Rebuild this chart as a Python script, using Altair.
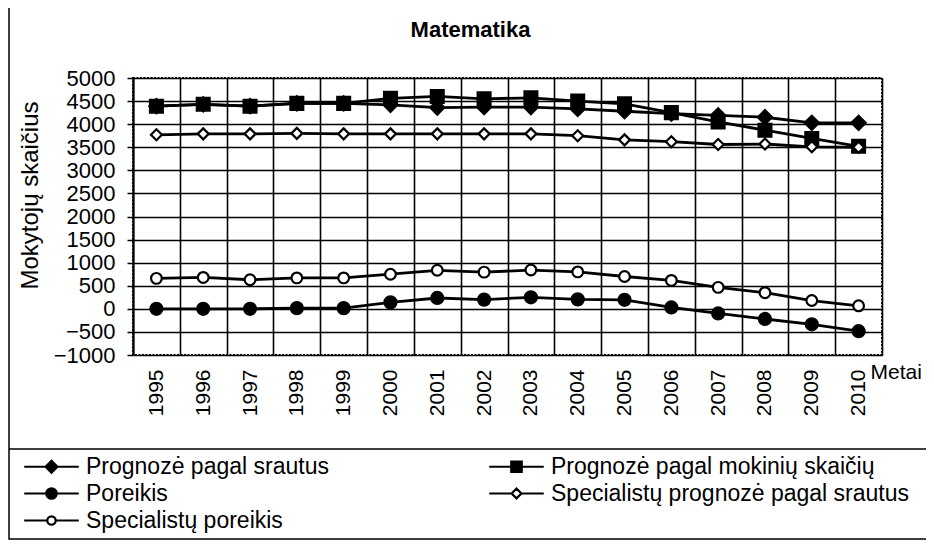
import altair as alt
import pandas as pd

# ---------------- data ----------------
years = ["1995", "1996", "1997", "1998", "1999", "2000", "2001", "2002",
         "2003", "2004", "2005", "2006", "2007", "2008", "2009", "2010"]

series_names = [
    "Prognozė pagal srautus",
    "Prognozė pagal mokinių skaičių",
    "Poreikis",
    "Specialistų prognozė pagal srautus",
    "Specialistų poreikis",
]

prognoze_srautus = [4390, 4430, 4390, 4450, 4450, 4420, 4360, 4370,
                    4370, 4330, 4280, 4230, 4190, 4150, 4030, 4030]
prognoze_mokiniu = [4390, 4430, 4390, 4450, 4450, 4560, 4600, 4550,
                    4570, 4500, 4440, 4250, 4050, 3870, 3690, 3520]
poreikis = [0, 0, 0, 15, 15, 140, 235, 200,
            250, 205, 195, 30, -100, -220, -335, -485]
specialistu_prognoze = [3770, 3790, 3790, 3800, 3790, 3790, 3790, 3790,
                        3790, 3750, 3660, 3620, 3560, 3570, 3510, 3500]
specialistu_poreikis = [660, 680, 630, 670, 670, 750, 835, 795,
                        840, 800, 700, 615, 465, 350, 180, 65]

y_ticks = [-1000, -500, 0, 500, 1000, 1500, 2000, 2500, 3000,
           3500, 4000, 4500, 5000]

# ---------------- styles ----------------
marker_shapes = ["diamond", "square", "circle", "diamond", "circle"]
marker_fills = ["black", "black", "black", "white", "white"]
marker_sizes = [200, 165, 145, 120, 115]

L = 3.9
legend_paths = [
    f"M{-L},0H{L}M-0.85,0L0,-0.85L0.85,0L0,0.85Z",
    f"M{-L},0H{L}M-0.75,-0.75H0.75V0.75H-0.75Z",
    f"M{-L},0H{L}M-0.75,0A0.75,0.75,0,1,1,0.75,0A0.75,0.75,0,1,1,-0.75,0Z",
    f"M{-L},0H-0.7M0.7,0H{L}M-0.7,0L0,-0.7L0.7,0L0,0.7Z",
    f"M{-L},0H-0.6M0.6,0H{L}M-0.6,0A0.6,0.6,0,1,1,0.6,0A0.6,0.6,0,1,1,-0.6,0Z",
]
legend_strokes = ["black", "black", "black", "black", "black"]

all_values = [prognoze_srautus, prognoze_mokiniu, poreikis,
              specialistu_prognoze, specialistu_poreikis]

rows = []
for i, name in enumerate(series_names):
    for yr, v in zip(years, all_values[i]):
        rows.append({"year": yr, "series": name, "value": v, "order": i,
                     "mshape": marker_shapes[i], "mfill": marker_fills[i],
                     "msize": marker_sizes[i]})
df = pd.DataFrame(rows)

FONT = "Liberation Sans"
W, H = 749, 277

x_enc = alt.X(
    "year:O", sort=years,
    scale=alt.Scale(type="band", paddingInner=0, paddingOuter=0),
    axis=alt.Axis(labelAngle=-90, labelFontSize=21, labelPadding=14,
                  ticks=False, domain=False, grid=True, tickBand="extent",
                  title="Metai", titleX=737, titleY=17, titleAlign="left",
                  titleBaseline="middle", titleAngle=0, titleFontSize=21,
                  titleFontWeight="normal"),
)
y_enc = alt.Y(
    "value:Q",
    scale=alt.Scale(domain=[-1000, 5000], nice=False, zero=False),
    axis=alt.Axis(values=y_ticks, format="d", labelFontSize=22, tickSize=6,
                  labelPadding=12, grid=True,
                  title="Mokytojų skaičius", titleFontSize=24,
                  titleFontWeight="normal", titleX=-103, titleY=117,
                  titleAngle=-90, titleAlign="center", titleBaseline="middle"),
)

base = alt.Chart(df).encode(x=x_enc, y=y_enc)

lines = base.mark_line(color="black", strokeWidth=2.8).encode(
    detail="series:N", order="year:O")

points = base.mark_point(stroke="black", strokeWidth=2.2, opacity=1,
                         fillOpacity=1).encode(
    shape=alt.Shape("mshape:N", scale=None),
    fill=alt.Fill("mfill:N", scale=None),
    size=alt.Size("msize:Q", scale=None),
    order="order:Q",
)

leg = alt.Legend(orient="none", legendX=-93, legendY=377, title=None,
                 columns=2, direction="horizontal",
                 symbolStrokeColor="black", symbolStrokeWidth=2.2,
                 symbolOpacity=1, symbolSize=196)
legend_layer = base.mark_point(opacity=0, stroke="black",
                               strokeWidth=2).encode(
    shape=alt.Shape("series:N",
                    scale=alt.Scale(domain=series_names, range=legend_paths),
                    legend=leg),
    fill=alt.Fill("series:N",
                  scale=alt.Scale(domain=series_names, range=marker_fills),
                  legend=leg),
    stroke=alt.Stroke("series:N",
                      scale=alt.Scale(domain=series_names,
                                      range=legend_strokes),
                      legend=leg),
)

deco = pd.DataFrame({"k": [0]})
frame = alt.Chart(deco).mark_rect(fill="white", fillOpacity=0, stroke="black",
                                  strokeWidth=1.5).encode(
    x=alt.value(-124), x2=alt.value(796), y=alt.value(-71), y2=alt.value(461))
divider = alt.Chart(deco).mark_rule(color="black", strokeWidth=1.5).encode(
    x=alt.value(-124), x2=alt.value(796), y=alt.value(371))

chart = alt.layer(frame, divider, lines, points, legend_layer).resolve_scale(
    shape="independent", fill="independent", size="independent",
    stroke="independent"
).properties(
    width=W, height=H,
    padding={"left": 125, "top": 70, "right": 44, "bottom": 185},
    autosize=alt.AutoSizeParams(type="none"),
    title=alt.TitleParams("Matematika", font=FONT, fontSize=22,
                          fontWeight="bold", color="black", anchor="middle",
                          frame="group", dx=-37, offset=-36),
).configure_axis(
    labelFont=FONT, titleFont=FONT, labelColor="black", titleColor="black",
    gridColor="black", gridOpacity=1, gridWidth=1.6, tickColor="black",
    tickWidth=1.5, domainColor="black", domainWidth=2,
).configure_view(
    stroke="black", strokeWidth=2, strokeDash=[2, 1.5],
).configure_legend(
    labelFont=FONT, labelFontSize=23, labelColor="black", labelOffset=23,
    symbolSize=196, symbolStrokeWidth=2.2, symbolStrokeColor="black",
    symbolOpacity=1, rowPadding=3, columnPadding=155, padding=0,
    labelLimit=0,
)

chart.save("out.html", embed_options={"renderer": "svg", "actions": False})
